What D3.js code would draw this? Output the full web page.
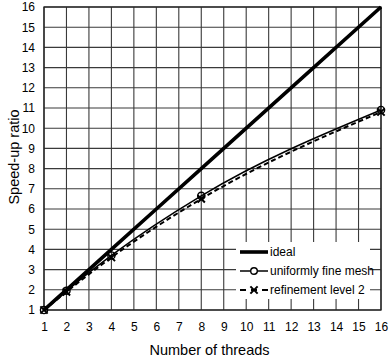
<!DOCTYPE html>
<html>
<head>
<meta charset="utf-8">
<script src="https://cdn.jsdelivr.net/npm/d3@7"></script>
<style>
  body { margin: 0; background: #fff; }
  text { font-family: "Liberation Sans", Arial, sans-serif; }
</style>
</head>
<body>
<div id="plot-container"></div>
<script>
// data
const ticks = d3.range(1, 17);
const threads = [1, 2, 4, 8, 16];
const ideal = [1, 2, 4, 8, 16];
const uniformMesh = [1, 1.95, 3.7, 6.65, 10.9];
const refinement2 = [1, 1.9, 3.6, 6.5, 10.8];

const margin = { top: 7, right: 9, bottom: 50, left: 44 };
const width = 390 - margin.left - margin.right;
const height = 360 - margin.top - margin.bottom;

const svg = d3.select("#plot-container")
  .append("svg")
  .attr("width", 390)
  .attr("height", 360)
  .append("g")
  .attr("transform", "translate(" + margin.left + "," + margin.top + ")");

const x = d3.scaleLinear().domain([1, 16]).range([0, width]);
const y = d3.scaleLinear().domain([1, 16]).range([height, 0]);

// grid
svg.append("g")
  .selectAll("line.v")
  .data(ticks)
  .enter().append("line")
  .attr("x1", d => x(d)).attr("x2", d => x(d))
  .attr("y1", 0).attr("y2", height)
  .attr("stroke", "#3a3a3a").attr("stroke-width", 1.1);

svg.append("g")
  .selectAll("line.h")
  .data(ticks)
  .enter().append("line")
  .attr("x1", 0).attr("x2", width)
  .attr("y1", d => y(d)).attr("y2", d => y(d))
  .attr("stroke", "#3a3a3a").attr("stroke-width", 1.1);

svg.append("rect")
  .attr("width", width).attr("height", height)
  .attr("fill", "none").attr("stroke", "#222").attr("stroke-width", 1.3);

// axes
const xAxis = svg.append("g")
  .attr("transform", "translate(0," + height + ")")
  .call(d3.axisBottom(x).tickValues(ticks).tickSize(0).tickPadding(12).tickFormat(d3.format("d")));
const yAxis = svg.append("g")
  .call(d3.axisLeft(y).tickValues(ticks).tickSize(0).tickPadding(9).tickFormat(d3.format("d")));
[xAxis, yAxis].forEach(a => {
  a.select(".domain").remove();
  a.selectAll("text").attr("fill", "#000").style("font-size", "12px")
    .style("font-family", "'Liberation Sans', Arial, sans-serif");
});

svg.append("text")
  .attr("x", width / 2 - 3)
  .attr("y", height + 45)
  .attr("text-anchor", "middle")
  .style("font-size", "14.5px")
  .text("Number of threads");

svg.append("text")
  .attr("transform", "rotate(-90)")
  .attr("x", -150)
  .attr("y", -25)
  .attr("text-anchor", "middle")
  .style("font-size", "14.5px")
  .text("Speed-up ratio");

// lines
const line = d3.line()
  .x(d => x(d[0]))
  .y(d => y(d[1]))
  .curve(d3.curveMonotoneX);

const zip = vals => threads.map((t, i) => [t, vals[i]]);

svg.append("path")
  .datum(zip(ideal))
  .attr("d", line)
  .attr("fill", "none").attr("stroke", "#000").attr("stroke-width", 3.6);

svg.append("path")
  .datum(zip(refinement2))
  .attr("d", line)
  .attr("fill", "none").attr("stroke", "#000").attr("stroke-width", 2)
  .attr("stroke-dasharray", "5,3");

svg.append("path")
  .datum(zip(uniformMesh))
  .attr("d", line)
  .attr("fill", "none").attr("stroke", "#000").attr("stroke-width", 1.5);

// markers
const cross = d3.symbol().type(d3.symbolX).size(36);
svg.selectAll("path.cross")
  .data(zip(refinement2))
  .enter().append("path")
  .attr("transform", d => "translate(" + x(d[0]) + "," + y(d[1]) + ")")
  .attr("d", cross)
  .attr("fill", "none").attr("stroke", "#000").attr("stroke-width", 2);

svg.selectAll("circle.mark")
  .data(zip(uniformMesh))
  .enter().append("circle")
  .attr("cx", d => x(d[0])).attr("cy", d => y(d[1]))
  .attr("r", 3.6)
  .attr("fill", "none").attr("stroke", "#000").attr("stroke-width", 1.4);

// legend
const lg = svg.append("g").attr("transform", "translate(192,235)");
lg.append("rect")
  .attr("width", 134).attr("height", 57)
  .attr("fill", "#fff");

const items = [
  { label: "ideal", w: 3.6, dash: null, mark: null },
  { label: "uniformly fine mesh", w: 1.5, dash: null, mark: "circle" },
  { label: "refinement level 2", w: 2, dash: "6,5", mark: "cross" }
];

const item = lg.selectAll(".legend")
  .data(items)
  .enter().append("g")
  .attr("class", "legend")
  .attr("transform", (d, i) => "translate(0," + (10 + i * 19) + ")");

item.append("line")
  .attr("x1", 4).attr("x2", 32)
  .attr("stroke", "#000")
  .attr("stroke-width", d => d.w)
  .attr("stroke-dasharray", d => d.dash);

item.filter(d => d.mark === "circle").append("circle")
  .attr("cx", 18).attr("r", 3.3)
  .attr("fill", "#fff").attr("stroke", "#000").attr("stroke-width", 1.4);

item.filter(d => d.mark === "cross").append("path")
  .attr("transform", "translate(18,0)")
  .attr("d", cross)
  .attr("fill", "#fff").attr("stroke", "#000").attr("stroke-width", 2);

item.append("text")
  .attr("x", 34)
  .attr("dy", "0.35em")
  .style("font-size", "12px")
  .text(d => d.label);
</script>
</body>
</html>
